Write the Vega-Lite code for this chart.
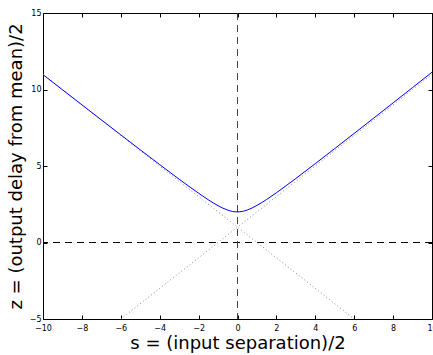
{
  "$schema": "https://vega.github.io/schema/vega-lite/v6.json",
  "width": 389,
  "height": 306,
  "autosize": {"type": "none"},
  "padding": {"left": 43, "top": 13, "right": 1, "bottom": 36},
  "background": "white",
  "config": {
    "view": {"stroke": null},
    "font": "DejaVu Sans",
    "axis": {
      "grid": false,
      "labelFont": "DejaVu Sans",
      "labelFontSize": 8,
      "labelColor": "black",
      "tickColor": "black",
      "tickSize": -4,
      "tickWidth": 1,
      "domainColor": "black",
      "domainWidth": 1,
      "titleFont": "DejaVu Sans",
      "titleFontSize": 18,
      "titleFontWeight": "normal",
      "titleColor": "black",
      "labelFlush": false,
      "labelBound": false,
      "labelOverlap": false
    }
  },
  "datasets": {
    "curve": [
      {"s": -10, "z": 10.97}, {"s": -9, "z": 9.983}, {"s": -8, "z": 8.998}, {"s": -7, "z": 8.015},
      {"s": -6, "z": 7.035}, {"s": -5, "z": 6.059}, {"s": -4, "z": 5.091}, {"s": -3, "z": 4.138},
      {"s": -2.5, "z": 3.673}, {"s": -2, "z": 3.22}, {"s": -1.5, "z": 2.791}, {"s": -1, "z": 2.406},
      {"s": -0.75, "z": 2.244}, {"s": -0.5, "z": 2.114}, {"s": -0.25, "z": 2.029}, {"s": 0, "z": 2.0},
      {"s": 0.25, "z": 2.033}, {"s": 0.5, "z": 2.122}, {"s": 0.75, "z": 2.256}, {"s": 1, "z": 2.422},
      {"s": 1.5, "z": 2.815}, {"s": 2, "z": 3.252}, {"s": 2.5, "z": 3.713}, {"s": 3, "z": 4.186},
      {"s": 4, "z": 5.155}, {"s": 5, "z": 6.139}, {"s": 6, "z": 7.131}, {"s": 7, "z": 8.127},
      {"s": 8, "z": 9.126}, {"s": 9, "z": 10.127}, {"s": 10, "z": 11.13}
    ],
    "asym": [
      {"line": "a", "s": -6, "z": -5}, {"line": "a", "s": 10, "z": 11},
      {"line": "b", "s": -10, "z": 11}, {"line": "b", "s": 6, "z": -5}
    ],
    "hz": [{"z": 0}],
    "vs": [{"s": 0}]
  },
  "resolve": {"axis": {"x": "independent", "y": "independent"}},
  "layer": [
    {
      "data": {"name": "hz"},
      "mark": {"type": "rule", "color": "black", "strokeWidth": 1, "strokeDash": [7, 5]},
      "encoding": {
        "y": {"field": "z", "type": "quantitative", "scale": {"domain": [-5, 15], "nice": false, "zero": false}, "axis": null}
      }
    },
    {
      "data": {"name": "vs"},
      "mark": {"type": "rule", "color": "#444444", "strokeWidth": 1, "strokeDash": [7, 5]},
      "encoding": {
        "x": {"field": "s", "type": "quantitative", "scale": {"domain": [-10, 10], "nice": false, "zero": false}, "axis": null}
      }
    },
    {
      "data": {"name": "asym"},
      "mark": {"type": "line", "color": "#888888", "strokeWidth": 1, "strokeDash": [1, 2.5], "clip": true},
      "encoding": {
        "x": {"field": "s", "type": "quantitative", "scale": {"domain": [-10, 10], "nice": false, "zero": false},
              "axis": {"orient": "top", "labels": false, "title": null, "values": [-10, -8, -6, -4, -2, 0, 2, 4, 6, 8, 10]}},
        "y": {"field": "z", "type": "quantitative", "scale": {"domain": [-5, 15], "nice": false, "zero": false},
              "axis": {"orient": "right", "labels": false, "title": null, "values": [-5, 0, 5, 10, 15]}},
        "detail": {"field": "line", "type": "nominal"}
      }
    },
    {
      "data": {"name": "curve"},
      "mark": {"type": "line", "color": "#0000ff", "strokeWidth": 1, "interpolate": "monotone", "clip": true},
      "encoding": {
        "x": {"field": "s", "type": "quantitative", "scale": {"domain": [-10, 10], "nice": false, "zero": false},
              "axis": {"orient": "bottom", "title": "s = (input separation)/2", "values": [-10, -8, -6, -4, -2, 0, 2, 4, 6, 8, 10], "labelPadding": 9, "titlePadding": 2}},
        "y": {"field": "z", "type": "quantitative", "scale": {"domain": [-5, 15], "nice": false, "zero": false},
              "axis": {"orient": "left", "title": "z = (output delay from mean)/2", "values": [-5, 0, 5, 10, 15], "labelPadding": 6, "titlePadding": 4}}
      }
    }
  ]
}
